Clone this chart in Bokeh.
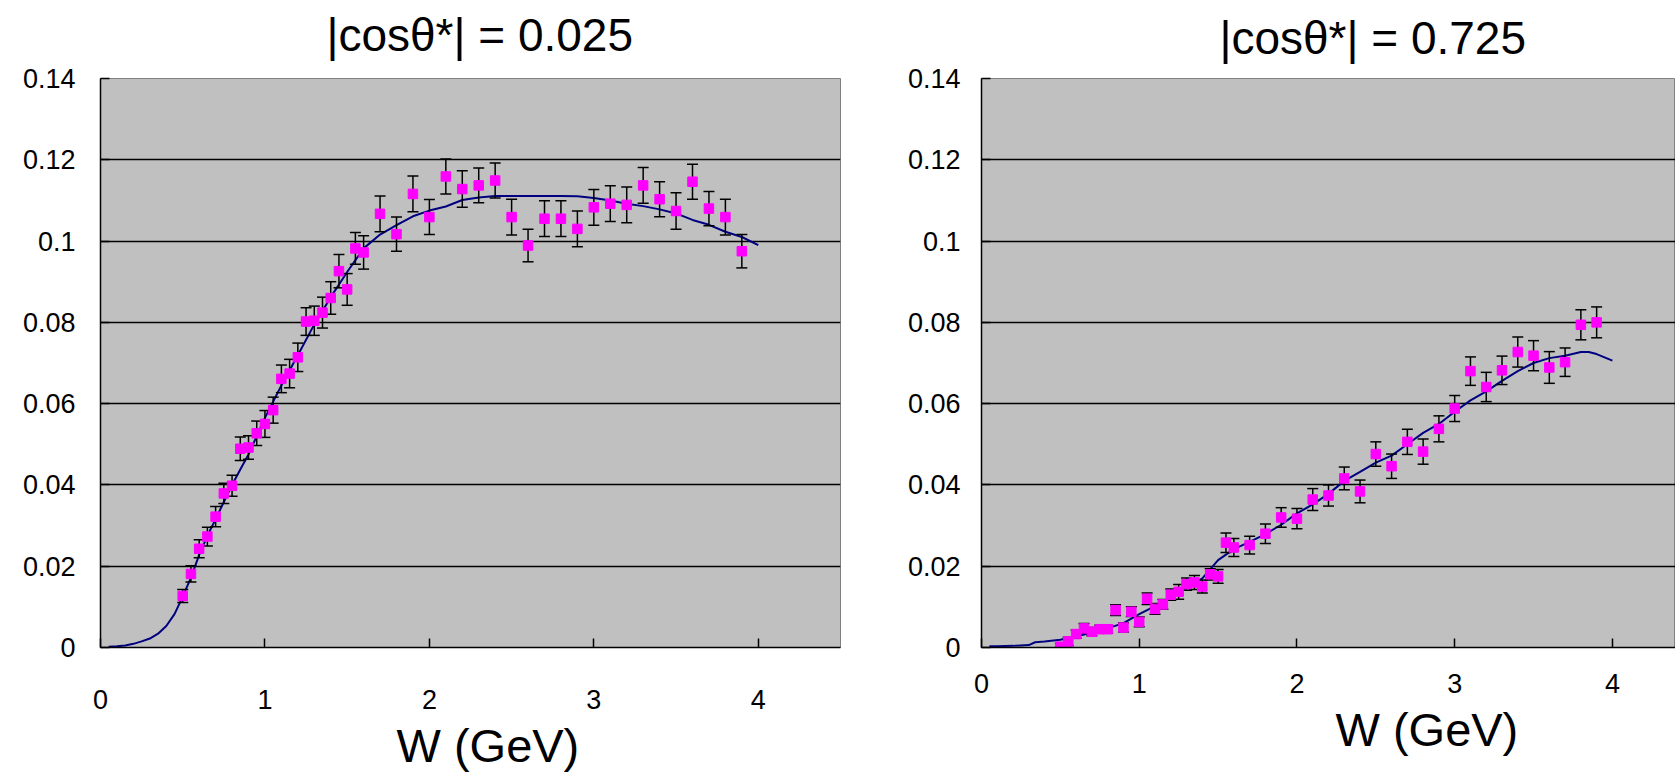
from bokeh.plotting import figure
from bokeh.models import FixedTicker, Range1d, Title
from bokeh.layouts import row
from bokeh.embed import file_html
from bokeh.resources import INLINE

# Measured points: W (GeV) and cross-section values with errors
w_points = [0.5, 0.55, 0.6, 0.65, 0.7, 0.75, 0.8, 0.85, 0.9, 0.95, 1.0, 1.05,
            1.1, 1.15, 1.2, 1.25, 1.3, 1.35, 1.4, 1.45, 1.5, 1.55, 1.6,
            1.7, 1.8, 1.9, 2.0, 2.1, 2.2, 2.3, 2.4, 2.5, 2.6, 2.7, 2.8, 2.9,
            3.0, 3.1, 3.2, 3.3, 3.4, 3.5, 3.6, 3.7, 3.8, 3.9]

val_025 = [0.0127, 0.0181, 0.0243, 0.0273, 0.0322, 0.0379, 0.0398, 0.0489, 0.0492,
           0.0527, 0.055, 0.0584, 0.0661, 0.0674, 0.0714, 0.0802, 0.0804, 0.0824,
           0.086, 0.0926, 0.0881, 0.0982, 0.0972,
           0.1067, 0.1017, 0.1116, 0.1059, 0.1159, 0.1128, 0.1137, 0.1149, 0.1059,
           0.0989, 0.1055, 0.1055, 0.103, 0.1083, 0.1092, 0.1089, 0.1137, 0.1103,
           0.1074, 0.1146, 0.108, 0.1059, 0.0975]
err_025 = [0.0016, 0.002, 0.0022, 0.0023, 0.0025, 0.0025, 0.0026, 0.0029, 0.0029,
           0.003, 0.0033, 0.0032, 0.0034, 0.0035, 0.0035, 0.0034, 0.0036, 0.0038,
           0.004, 0.0041, 0.0039, 0.0039, 0.0041,
           0.0044, 0.0042, 0.0044, 0.0043, 0.0043, 0.0045, 0.0043, 0.0043, 0.0044,
           0.004, 0.0044, 0.0044, 0.0044, 0.0044, 0.0044, 0.0044, 0.0044, 0.0043,
           0.0045, 0.0043, 0.0042, 0.0044, 0.0041]

val_725 = [0.0002, 0.0015, 0.0033, 0.0047, 0.0039, 0.0045, 0.0045, 0.0092, 0.0049,
           0.0088, 0.0063, 0.012, 0.0095, 0.0106, 0.013, 0.0137, 0.0156, 0.016,
           0.015, 0.018, 0.0175, 0.0258, 0.0246,
           0.0252, 0.028, 0.032, 0.0317, 0.0364, 0.0374, 0.0416, 0.0384, 0.0476,
           0.0446, 0.0506, 0.0482, 0.0538, 0.0588, 0.068, 0.0641, 0.0682, 0.0727,
           0.0718, 0.0689, 0.0702, 0.0794, 0.08]
err_725 = [0.0008, 0.001, 0.001, 0.0012, 0.001, 0.001, 0.001, 0.0013, 0.0011,
           0.0012, 0.0012, 0.0014, 0.0013, 0.0012, 0.0014, 0.0018, 0.0015, 0.0017,
           0.0016, 0.0014, 0.0017, 0.0024, 0.0022,
           0.0022, 0.0024, 0.0024, 0.0025, 0.0027, 0.0026, 0.0028, 0.0028, 0.003,
           0.003, 0.0031, 0.0031, 0.0032, 0.0032, 0.0035, 0.0036, 0.0035, 0.0037,
           0.0037, 0.0039, 0.0035, 0.0037, 0.0038]

# Theory curves
w_curve_025 = [0.05, 0.1, 0.15, 0.2, 0.25, 0.3, 0.35, 0.4, 0.45, 0.5, 0.55, 0.6,
               0.65, 0.7, 0.75, 0.8, 0.85, 0.9, 0.95, 1.0, 1.05, 1.1, 1.15, 1.2,
               1.3, 1.4, 1.5, 1.6, 1.7, 1.8, 1.9, 2.0, 2.1, 2.2, 2.3, 2.4, 2.5,
               2.6, 2.7, 2.8, 2.9, 3.0, 3.1, 3.2, 3.3, 3.4, 3.5, 3.6, 3.7, 3.8,
               3.9, 4.0]
curve_025 = [0.0002, 0.0003, 0.0005, 0.0009, 0.0015, 0.0022, 0.0034, 0.0053, 0.0082,
             0.0125, 0.0172, 0.0228, 0.0275, 0.0316, 0.0358, 0.04, 0.0438, 0.0475,
             0.052, 0.0565, 0.0605, 0.0645, 0.0682, 0.0719,
             0.0795, 0.0862, 0.0924, 0.0982, 0.1016, 0.1039, 0.1061, 0.1075, 0.1085,
             0.1101, 0.1107, 0.1111, 0.1111, 0.1111, 0.1111, 0.1111, 0.111, 0.1106,
             0.11, 0.1092, 0.1086, 0.1078, 0.1068, 0.1052, 0.104, 0.1023, 0.101, 0.099]

w_curve_725 = [0.05, 0.1, 0.2, 0.3, 0.34, 0.4, 0.5, 0.6, 0.7, 0.8, 0.9, 1.0, 1.1,
               1.2, 1.3, 1.4, 1.5, 1.6, 1.7, 1.8, 1.9, 2.0, 2.1, 2.2, 2.3, 2.4,
               2.5, 2.6, 2.7, 2.8, 2.9, 3.0, 3.1, 3.2, 3.3, 3.4, 3.5, 3.6, 3.7,
               3.8, 3.85, 3.9, 4.0]
curve_725 = [0.0003, 0.0003, 0.0004, 0.0006, 0.0013, 0.0015, 0.0019, 0.0027, 0.0037,
             0.0047, 0.006, 0.0082, 0.0102, 0.0123, 0.0148, 0.017, 0.0215, 0.0242,
             0.026, 0.0279, 0.0302, 0.033, 0.0352, 0.0378, 0.041, 0.0432, 0.0455,
             0.0472, 0.05, 0.0528, 0.055, 0.058, 0.0608, 0.063, 0.0656, 0.068, 0.07,
             0.0712, 0.0718, 0.0727, 0.0727, 0.0722, 0.0706]

y_ticks = [0.0, 0.02, 0.04, 0.06, 0.08, 0.1, 0.12, 0.14]
y_tick_labels = ["0", "0.02", "0.04", "0.06", "0.08", "0.1", "0.12", "0.14"]
x_ticks = [0, 1, 2, 3, 4]

titles = ["|cos\u03b8*| = 0.025", "|cos\u03b8*| = 0.725"]
x_title = "W (GeV)"

FONT = "Liberation Sans"
SHIFT = 12  # figures are pulled up so the title room sits above the page top


def panel(width, x_end, border, val, err, w_curve, curve, title, title_offset,
          title_standoff, xlabel_offset, x_standoff, y_standoff):
    left, right, top, frame_h, bottom = border
    p = figure(width=width, height=top + frame_h + bottom,
               x_range=Range1d(0, x_end), y_range=Range1d(0, 0.14),
               output_backend="svg", toolbar_location=None,
               min_border_left=left, min_border_right=right,
               min_border_top=top, min_border_bottom=bottom,
               background_fill_color="#C0C0C0", border_fill_color="white",
               margin=(-SHIFT, 0, 0, 0))
    p.outline_line_color = "#808080"
    p.outline_line_width = 1

    p.xgrid.visible = False
    p.ygrid.ticker = FixedTicker(ticks=y_ticks[1:-1])
    p.ygrid.grid_line_color = "black"
    p.ygrid.grid_line_width = 1.3

    p.xaxis.ticker = FixedTicker(ticks=x_ticks)
    p.yaxis.ticker = FixedTicker(ticks=y_ticks)
    p.yaxis.major_label_overrides = dict(zip(y_ticks, y_tick_labels))
    for ax in (p.xaxis[0], p.yaxis[0]):
        ax.axis_line_color = "black"
        ax.axis_line_width = 1.5
        ax.major_tick_line_color = "black"
        ax.major_tick_line_width = 1.5
        ax.major_tick_in = 9
        ax.major_tick_out = 0
        ax.minor_tick_line_color = None
        ax.major_label_text_font = FONT
        ax.major_label_text_font_size = "27px"
        ax.major_label_text_color = "black"
    p.xaxis.major_label_standoff = x_standoff
    p.yaxis.major_label_standoff = y_standoff

    lo = [v - e for v, e in zip(val, err)]
    hi = [v + e for v, e in zip(val, err)]

    p.line(w_curve, curve, line_color="#000080", line_width=2)
    p.segment(x0=w_points, y0=lo, x1=w_points, y1=hi, line_color="black",
              line_width=1.5)
    p.scatter(w_points, lo, marker="dash", size=11, line_color="black",
              line_width=1.5)
    p.scatter(w_points, hi, marker="dash", size=11, line_color="black",
              line_width=1.5)
    p.scatter(w_points, val, marker="square", size=9.5, fill_color="#FF00FF",
              line_color="#FF00FF")

    p.title = Title(text=title, align="left", offset=title_offset,
                    vertical_align="bottom", text_font=FONT,
                    text_font_size="46px", text_font_style="normal",
                    text_color="black", standoff=title_standoff)
    p.add_layout(Title(text=x_title, align="left", offset=xlabel_offset,
                       text_font=FONT, text_font_size="47px",
                       text_font_style="normal", text_color="black",
                       standoff=10), "below")
    return p


p1 = panel(880, 4.5, (100, 40, 78 + SHIFT, 574, 128), val_025, err_025,
           w_curve_025, curve_025, titles[0], 226, 36, 296, 42, 25)
p2 = panel(795, 4.4, (101, 0, 72 + SHIFT, 575, 133), val_725, err_725,
           w_curve_725, curve_725, titles[1], 238, 30, 354, 26, 21)

layout = row(p1, p2)
open("out.html", "w").write(file_html(layout, INLINE))
